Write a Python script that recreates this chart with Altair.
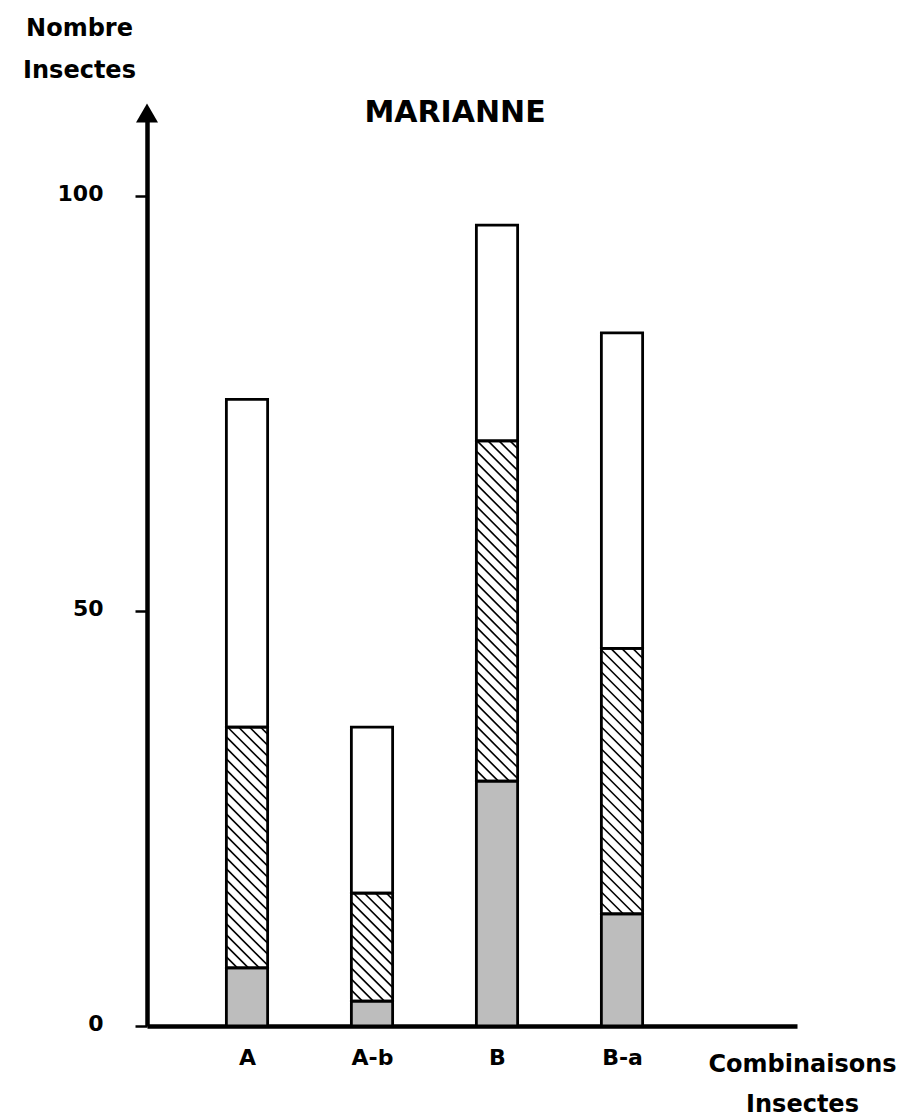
import json
import altair as alt
import pandas as pd

# ---- data ----
categories = ["A", "A-b", "B", "B-a"]
gris = [7.0, 3.0, 29.5, 13.5]        # stippled (bottom) part
hachure = [29.0, 13.0, 41.0, 32.0]   # hatched (middle) part
blanc = [39.5, 20.0, 26.0, 38.0]     # white (top) part
y_ticks = [0, 50, 100]
chart_title = "MARIANNE"
y_title = ["Nombre", "Insectes"]
x_title = ["Combinaisons", "Insectes"]

# ---- layout ----
W, H = 650, 913
X_DOM = [0.2, 5.4]
Y_DOM = [0, 110]
HALF = 0.165
KX = W / (X_DOM[1] - X_DOM[0])
KY = H / (Y_DOM[1] - Y_DOM[0])
HATCH_GAP_PX = 11
FONT = "DejaVu Sans"

rows = []
for i, c in enumerate(categories):
    pos = i + 1
    y0 = 0.0
    for seg, v in (("gris", gris[i]), ("hachure", hachure[i]), ("blanc", blanc[i])):
        rows.append(dict(cat=c, seg=seg, x=pos - HALF, x2=pos + HALF, y=y0, y2=y0 + v))
        y0 += v
bars = pd.DataFrame(rows)

# hatch lines (45 degrees on screen, going down to the right), in data units
hrows = []
r_ = KY / KX
s = HATCH_GAP_PX / KY
for r in rows:
    if r["seg"] != "hachure":
        continue
    xl, xr, yb, yt = r["x"], r["x2"], r["y"], r["y2"]
    D = (xr - xl) * KX / KY
    j = 1
    while True:
        yL = yb + j * s
        if yL - D >= yt:
            break
        if yL <= yt:
            xs, ys = xl, yL
        else:
            xs, ys = xl + (yL - yt) * r_, yt
        if yL - D >= yb:
            xe, ye = xr, yL - D
        else:
            xe, ye = xl + (yL - yb) * r_, yb
        hrows.append(dict(x=xs, y=ys, x2=xe, y2=ye))
        j += 1
hatch = pd.DataFrame(hrows)

arrow = pd.DataFrame([dict(x=X_DOM[0], y=Y_DOM[1])])

label_expr = "%s[round(datum.value) - 1]" % json.dumps(categories)

x_enc = alt.X(
    "x:Q",
    scale=alt.Scale(domain=X_DOM, nice=False, zero=False),
    axis=alt.Axis(
        values=[1, 2, 3, 4], labelExpr=label_expr, ticks=False, grid=False,
        domainWidth=4.5, domainColor="black", labelFontSize=22, labelFont=FONT,
        labelFontWeight="bold", labelColor="black", labelPadding=21,
        title=x_title, titleFont=FONT, titleFontSize=24, titleFontWeight="bold",
        titleColor="black", titleAlign="center", titleAnchor="start",
        titleX=655, titleY=45, titleBaseline="alphabetic", titleLineHeight=40,
    ),
)
y_enc = alt.Y(
    "y:Q",
    scale=alt.Scale(domain=Y_DOM, nice=False),
    axis=alt.Axis(
        values=y_ticks, grid=False, domainWidth=4.5, domainColor="black",
        tickSize=12, tickWidth=2.5, tickColor="black", labelFontSize=22,
        labelFont=FONT, labelFontWeight="bold", labelColor="black",
        labelPadding=32, labelOffset=-3,
        title=y_title, titleFont=FONT, titleFontSize=24, titleFontWeight="bold",
        titleColor="black", titleAngle=0, titleAlign="center",
        titleX=-68, titleY=-78, titleBaseline="alphabetic", titleLineHeight=42,
    ),
)

fills = alt.Chart(bars).mark_rect(strokeWidth=0).encode(
    x=x_enc, x2="x2:Q", y=y_enc, y2="y2:Q",
    color=alt.Color("seg:N", scale=alt.Scale(domain=["gris", "hachure", "blanc"],
                                             range=["#bdbdbd", "#ffffff", "#ffffff"]),
                    legend=None),
)
hatches = alt.Chart(hatch).mark_rule(color="black", strokeWidth=1.6).encode(
    x=x_enc, x2="x2:Q", y=y_enc, y2="y2:Q"
)
outlines = alt.Chart(bars).mark_rect(filled=False, stroke="black", strokeWidth=2.8).encode(
    x=x_enc, x2="x2:Q", y=y_enc, y2="y2:Q"
)
tip = alt.Chart(arrow).mark_point(shape="triangle-up", filled=True, size=484,
                                  color="black", opacity=1).encode(x=x_enc, y=y_enc)

chart = alt.layer(fills, hatches, outlines, tip).properties(
    width=W, height=H,
    background="white",
    title=alt.TitleParams(chart_title, font=FONT, fontSize=30, fontWeight="bold",
                          color="black", anchor="middle", dx=-17, offset=0,
                          baseline="alphabetic", dy=136),
    autosize=alt.AutoSizeParams(type="none"),
    padding={"left": 139, "top": 105, "right": 117, "bottom": 100},
).configure_view(stroke=None)

chart.save("out.html", embed_options={"renderer": "svg", "actions": False})
